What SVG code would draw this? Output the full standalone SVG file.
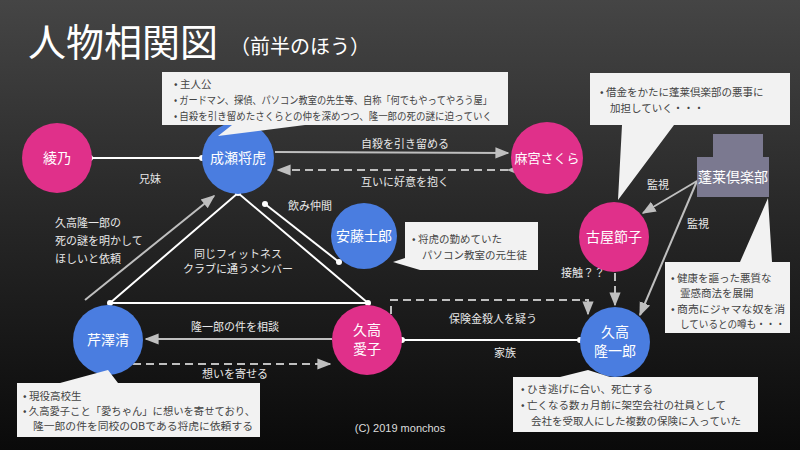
<svg xmlns="http://www.w3.org/2000/svg" width="800" height="450" viewBox="0 0 800 450">
<defs>
<linearGradient id="bg" x1="0" y1="0" x2="0" y2="1"><stop offset="0" stop-color="#454545"/><stop offset="0.5" stop-color="#262626"/><stop offset="1" stop-color="#0a0a0a"/></linearGradient>
<marker id="ag" viewBox="0 0 10 10" refX="9" refY="5" markerWidth="7" markerHeight="7" orient="auto"><path d="M0,1 L10,5 L0,9 z" fill="#bfbfbf"/></marker>
<style>
text{font-family:"Noto Sans CJK JP","Noto Sans",sans-serif;}
.pk{fill:#e0308a}.bl{fill:#4a7de0}
.nt{fill:#fff;font-size:14px;text-anchor:middle}
.lb{fill:#e8e8e8;font-size:11px;text-anchor:middle}
.lbl{fill:#e8e8e8;font-size:11px}
.co{fill:#f2f2f2}
.ct{fill:#444;font-size:10.5px}
.w{stroke:#fff;stroke-width:2;fill:none}
.g{stroke:#bfbfbf;stroke-width:2;fill:none;marker-end:url(#ag)}
.d{stroke:#bfbfbf;stroke-width:2;fill:none;stroke-dasharray:8 5;marker-end:url(#ag)}
.dot{fill:#fff}
</style>
</defs>
<rect width="800" height="450" fill="url(#bg)"/>
<text x="28" y="56" fill="#fff" font-size="38">人物相関図</text>
<text x="230" y="54" fill="#fff" font-size="20">（前半のほう）</text>

<g id="connectors">
<line class="w" x1="90" y1="158" x2="200" y2="158"/><circle class="dot" cx="90" cy="158" r="3"/><circle class="dot" cx="202" cy="158" r="3"/>
<text class="lb" x="150" y="183">兄妹</text>
<line class="g" x1="275" y1="152" x2="508" y2="153"/>
<text class="lb" x="405" y="148">自殺を引き留める</text>
<line class="d" x1="508" y1="170" x2="278" y2="170" marker-start="url(#ag)"/>
<text class="lb" x="405" y="186">互いに好意を抱く</text>
<line class="w" x1="265" y1="204" x2="339" y2="262"/><circle class="dot" cx="265" cy="204" r="3"/><circle class="dot" cx="339" cy="262" r="3"/>
<text class="lb" x="310" y="210">飲み仲間</text>
<polyline class="w" points="110,303 238,193 368,303 110,303"/>
<circle class="dot" cx="238" cy="193" r="3"/><circle class="dot" cx="110" cy="303" r="3"/><circle class="dot" cx="368" cy="303" r="3"/>
<text class="lb" x="238" y="258">同じフィットネス</text><text class="lb" x="238" y="273">クラブに通うメンバー</text>
<line class="g" x1="85" y1="300" x2="214" y2="196"/>
<text class="lbl" x="55" y="227">久高隆一郎の</text><text class="lbl" x="55" y="245">死の謎を明かして</text><text class="lbl" x="55" y="263">ほしいと依頼</text>
<line class="g" x1="332" y1="339" x2="146" y2="339"/>
<text class="lb" x="235" y="331">隆一郎の件を相談</text>
<line class="d" x1="133" y1="364" x2="330" y2="364"/>
<text class="lb" x="235" y="378">想いを寄せる</text>
<line class="w" x1="402" y1="340" x2="580" y2="340"/><circle class="dot" cx="402" cy="340" r="3"/><circle class="dot" cx="580" cy="340" r="3"/>
<text class="lb" x="505" y="357">家族</text>
<polyline class="d" points="391,314 391,300 588,300 588,314"/>
<text class="lb" x="493" y="323">保険金殺人を疑う</text>
<line class="d" x1="615" y1="273" x2="615" y2="305"/>
<text class="lb" x="583" y="277">接触？？</text>
<line class="g" x1="697" y1="181" x2="643" y2="213"/>
<text class="lb" x="658" y="189">監視</text>
<line class="g" x1="697" y1="181" x2="640" y2="315"/>
<text class="lb" x="698" y="228">監視</text>
</g>

<g id="n-ayano"><circle class="pk" cx="57" cy="158" r="35"/><text class="nt" x="57" y="163">綾乃</text></g>
<g id="n-naruse"><circle class="bl" cx="238" cy="158" r="36"/><text class="nt" x="238" y="163">成瀬将虎</text></g>
<g id="n-sakura"><circle class="pk" cx="547" cy="158" r="36"/><text class="nt" x="547" y="163" style="font-size:13px">麻宮さくら</text></g>
<g id="n-ando"><circle class="bl" cx="364" cy="236" r="33"/><text class="nt" x="364" y="241">安藤士郎</text></g>
<g id="n-furuya"><circle class="pk" cx="614" cy="237" r="35"/><text class="nt" x="614" y="242">古屋節子</text></g>
<g id="n-horai"><rect x="713" y="134" width="50" height="25" fill="#7b7990"/><rect x="697" y="157" width="72" height="40" fill="#7b7990"/><text class="nt" x="733" y="182">蓬莱倶楽部</text></g>
<g id="n-serizawa"><circle class="bl" cx="108" cy="340" r="35"/><text class="nt" x="108" y="345">芹澤清</text></g>
<g id="n-aiko"><circle class="pk" cx="367" cy="340" r="35"/><text class="nt" x="367" y="335">久高</text><text class="nt" x="367" y="354">愛子</text></g>
<g id="n-ryuichiro"><circle class="bl" cx="615" cy="342" r="35"/><text class="nt" x="615" y="337">久高</text><text class="nt" x="615" y="356">隆一郎</text></g>

<g id="c-naruse"><path class="co" d="M162,72 H508 V125 H305 L218,136 L232,125 H162 Z"/>
<text class="ct" x="174" y="88">•  主人公</text><text class="ct" x="174" y="104" textLength="318" lengthAdjust="spacingAndGlyphs">•  ガードマン、探偵、パソコン教室の先生等、自称「何でもやってやろう屋」</text><text class="ct" x="174" y="120" textLength="318" lengthAdjust="spacingAndGlyphs">•  自殺を引き留めたさくらとの仲を深めつつ、隆一郎の死の謎に迫っていく</text></g>
<g id="c-ando"><path class="co" d="M405,222 H538 V270 H420 L393,262 L405,258 Z"/>
<text class="ct" x="412" y="243">•  将虎の勤めていた</text><text class="ct" x="422" y="259">パソコン教室の元生徒</text></g>
<g id="c-furuya"><path class="co" d="M590,73 H790 V125 H674 L618,200 L622,125 H590 Z"/>
<text class="ct" x="600" y="96">•  借金をかたに蓬莱倶楽部の悪事に</text><text class="ct" x="610" y="112">加担していく・・・</text></g>
<g id="c-horai"><path class="co" d="M665,262 H740 L768,198 L772,262 H790 V333 H665 Z"/>
<text class="ct" x="671" y="282">•  健康を謳った悪質な</text><text class="ct" x="680" y="297">霊感商法を展開</text><text class="ct" x="671" y="313" textLength="114" lengthAdjust="spacingAndGlyphs">•  商売にジャマな奴を消</text><text class="ct" x="680" y="328" textLength="105" lengthAdjust="spacingAndGlyphs">しているとの噂も・・・</text></g>
<g id="c-ryuichiro"><path class="co" d="M513,377 H560 L588,370 L610,377 H758 V432 H513 Z"/>
<text class="ct" x="521" y="393">•  ひき逃げに合い、死亡する</text><text class="ct" x="521" y="409">•  亡くなる数ヵ月前に架空会社の社員として</text><text class="ct" x="531" y="425">会社を受取人にした複数の保険に入っていた</text></g>
<g id="c-serizawa"><path class="co" d="M17,383 H60 L108,370 L118,383 H260 V437 H17 Z"/>
<text class="ct" x="23" y="400">•  現役高校生</text><text class="ct" x="23" y="415" textLength="232" lengthAdjust="spacingAndGlyphs">•  久高愛子こと「愛ちゃん」に想いを寄せており、</text><text class="ct" x="33" y="430" textLength="220" lengthAdjust="spacingAndGlyphs">隆一郎の件を同校のOBである将虎に依頼する</text></g>

<text x="400" y="432" fill="#ddd" font-size="11" text-anchor="middle" style="font-family:'Liberation Sans',sans-serif">(C) 2019 monchos</text>
</svg>
